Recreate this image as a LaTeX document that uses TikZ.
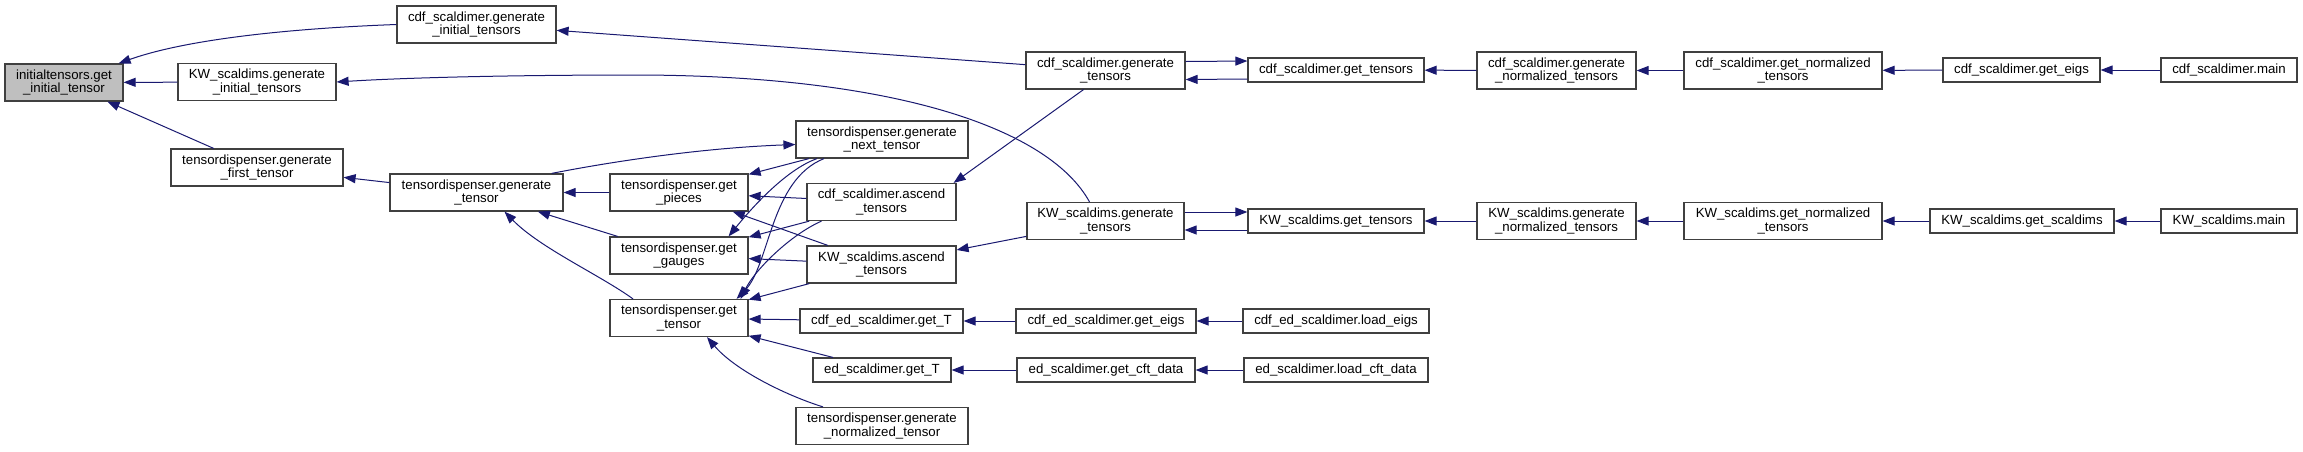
\documentclass[tikz,border=0pt]{standalone}
\usepackage{fontspec}
\setmainfont{Liberation Sans}
\usetikzlibrary{arrows.meta}
\definecolor{edgeblue}{RGB}{25,25,112}

\begin{document}
\begin{tikzpicture}[x=1pt, y=-1pt,
  >={Triangle[length=12pt, width=9pt]},
  % Function boxes: one line unless tall, width given per box
  fnbox/.style={draw=black!75, line width=1.2pt, fill=white, inner sep=0pt,
                minimum width=#1, minimum height=24, align=center,
                font=\fontsize{13.25}{13.3}\selectfont},
  tall/.style={minimum height=37},
  % The function the graph is drawn for
  rootbox/.style={fnbox=#1, tall, fill=black!25},
  % Calls: arrow head at the called function
  call/.style={->, draw=edgeblue, line width=1pt}
]
  \useasboundingbox (0,0) rectangle (2303,451);

  % Left part
  \node[rootbox=118]  (getinit)    at (64,82.5)   {initialtensors.get\\\_initial\_tensor};
  \node[fnbox=159, tall] (cdfgeninit) at (476.5,24.5) {cdf\_scaldimer.generate\\\_initial\_tensors};
  \node[fnbox=158, tall] (kwgeninit)  at (257,82)     {KW\_scaldims.generate\\\_initial\_tensors};
  \node[fnbox=172, tall] (genfirst)   at (257,167.5)  {tensordispenser.generate\\\_first\_tensor};
  \node[fnbox=173, tall] (gentensor)  at (476.5,192.5) {tensordispenser.generate\\\_tensor};

  % tensordispenser column
  \node[fnbox=138, tall] (getpieces) at (679,192.5) {tensordispenser.get\\\_pieces};
  \node[fnbox=138, tall] (getgauges) at (679,255.5) {tensordispenser.get\\\_gauges};
  \node[fnbox=138, tall] (gettensor) at (679,318)   {tensordispenser.get\\\_tensor};

  % Middle column
  \node[fnbox=172, tall] (gennext)   at (882,139.5) {tensordispenser.generate\\\_next\_tensor};
  \node[fnbox=149, tall] (cdfascend) at (881.5,202) {cdf\_scaldimer.ascend\\\_tensors};
  \node[fnbox=149, tall] (kwascend)  at (881.5,264.5) {KW\_scaldims.ascend\\\_tensors};
  \node[fnbox=163]       (cdfedT)    at (881.5,321) {cdf\_ed\_scaldimer.get\_T};
  \node[fnbox=138]       (edT)       at (882,370)   {ed\_scaldimer.get\_T};
  \node[fnbox=172, tall] (gennorm)   at (882,426)   {tensordispenser.generate\\\_normalized\_tensor};

  % generate_tensors column
  \node[fnbox=159, tall] (cdfgen)    at (1105.5,70.5) {cdf\_scaldimer.generate\\\_tensors};
  \node[fnbox=157, tall] (kwgen)     at (1105.5,221)  {KW\_scaldims.generate\\\_tensors};
  \node[fnbox=180]       (cdfedeigs) at (1106,321)    {cdf\_ed\_scaldimer.get\_eigs};
  \node[fnbox=178]       (edcft)     at (1106,370)    {ed\_scaldimer.get\_cft\_data};

  % get_tensors column
  \node[fnbox=176] (cdfget)    at (1336,70)  {cdf\_scaldimer.get\_tensors};
  \node[fnbox=176] (kwget)     at (1336,221) {KW\_scaldims.get\_tensors};
  \node[fnbox=186] (cdfedload) at (1336,321) {cdf\_ed\_scaldimer.load\_eigs};
  \node[fnbox=184] (edload)    at (1336,370) {ed\_scaldimer.load\_cft\_data};

  % Right part
  \node[fnbox=159, tall] (cdfgennorm) at (1556.5,70.5) {cdf\_scaldimer.generate\\\_normalized\_tensors};
  \node[fnbox=159, tall] (kwgennorm)  at (1556.5,221)  {KW\_scaldims.generate\\\_normalized\_tensors};
  \node[fnbox=198, tall] (cdfgetnorm) at (1783,70.5)   {cdf\_scaldimer.get\_normalized\\\_tensors};
  \node[fnbox=198, tall] (kwgetnorm)  at (1783,221)    {KW\_scaldims.get\_normalized\\\_tensors};
  \node[fnbox=157] (cdfeigs)    at (2021.5,70) {cdf\_scaldimer.get\_eigs};
  \node[fnbox=184] (kwscaldims) at (2022,221)  {KW\_scaldims.get\_scaldims};
  \node[fnbox=136] (cdfmain)    at (2229,70)   {cdf\_scaldimer.main};
  \node[fnbox=136] (kwmain)     at (2229,221)  {KW\_scaldims.main};

  % --- Callers of initialtensors.get_initial_tensor ---
  \draw[call] (cdfgeninit.west) .. controls (300,28) and (190,38) .. ([xshift=-5]getinit.north east);
  \draw[call] (kwgeninit) -- (getinit);
  \draw[call] (genfirst) -- (getinit);
  \draw[call] (gentensor) -- (genfirst);
  \draw[call] (cdfgen) -- (cdfgeninit);
  \draw[call] ([xshift=-16]kwgen.north) .. controls (1050,130) and (900,76) .. (640,75)
    .. controls (500,75) and (400,78) .. (kwgeninit.east);

  % --- generate_tensor and its recursion ---
  \draw[call] ([xshift=-12]gentensor.north east) .. controls (610,162) and (700,148) .. ([yshift=-5]gennext.west);
  \draw[call] (getpieces) -- (gentensor);
  \draw[call] (getgauges) -- (gentensor);
  \draw[call] ([xshift=-46]gettensor.north) .. controls (600,275) and (540,248) .. ([xshift=28]gentensor.south);

  % generate_next_tensor into the get_ column
  \draw[call] (gennext) -- (getpieces);
  \draw[call] ([xshift=-65]gennext.south) .. controls (785,170) and (750,210) .. ([xshift=-20]getgauges.north east);
  \draw[call] ([xshift=-58]gennext.south) .. controls (770,180) and (770,265) .. ([xshift=-12]gettensor.north east);

  % ascend_tensors into the get_ column
  \draw[call] (cdfascend) -- (getpieces);
  \draw[call] (cdfascend) -- (getgauges);
  \draw[call] ([xshift=-60]cdfascend.south) .. controls (790,235) and (755,270) .. ([xshift=-8]gettensor.north east);
  \draw[call] (kwascend) -- (getpieces);
  \draw[call] (kwascend) -- (getgauges);
  \draw[call] (kwascend) -- (gettensor);

  % Other callers of get_tensor
  \draw[call] (cdfedT) -- (gettensor);
  \draw[call] (edT) -- (gettensor);
  \draw[call] ([xshift=-59]gennorm.north) .. controls (785,395) and (735,370) .. ([xshift=28]gettensor.south);

  % generate_tensors
  \draw[call] ([xshift=-22]cdfgen.south) -- ([xshift=-3]cdfascend.north east);
  \draw[call] (kwgen) -- (kwascend);
  \draw[call] ([yshift=9]cdfgen.east) -- ([yshift=9]cdfget.west);
  \draw[call] ([yshift=-9]cdfget.west) -- ([yshift=-9]cdfgen.east);
  \draw[call] ([yshift=9]kwgen.east) -- ([yshift=9]kwget.west);
  \draw[call] ([yshift=-9]kwget.west) -- ([yshift=-9]kwgen.east);

  % --- Chains to the right ---
  \draw[call] (cdfgennorm) -- (cdfget);
  \draw[call] (cdfgetnorm) -- (cdfgennorm);
  \draw[call] (cdfeigs) -- (cdfgetnorm);
  \draw[call] (cdfmain) -- (cdfeigs);
  \draw[call] (kwgennorm) -- (kwget);
  \draw[call] (kwgetnorm) -- (kwgennorm);
  \draw[call] (kwscaldims) -- (kwgetnorm);
  \draw[call] (kwmain) -- (kwscaldims);
  \draw[call] (cdfedeigs) -- (cdfedT);
  \draw[call] (cdfedload) -- (cdfedeigs);
  \draw[call] (edcft) -- (edT);
  \draw[call] (edload) -- (edcft);

\end{tikzpicture}
\end{document}
